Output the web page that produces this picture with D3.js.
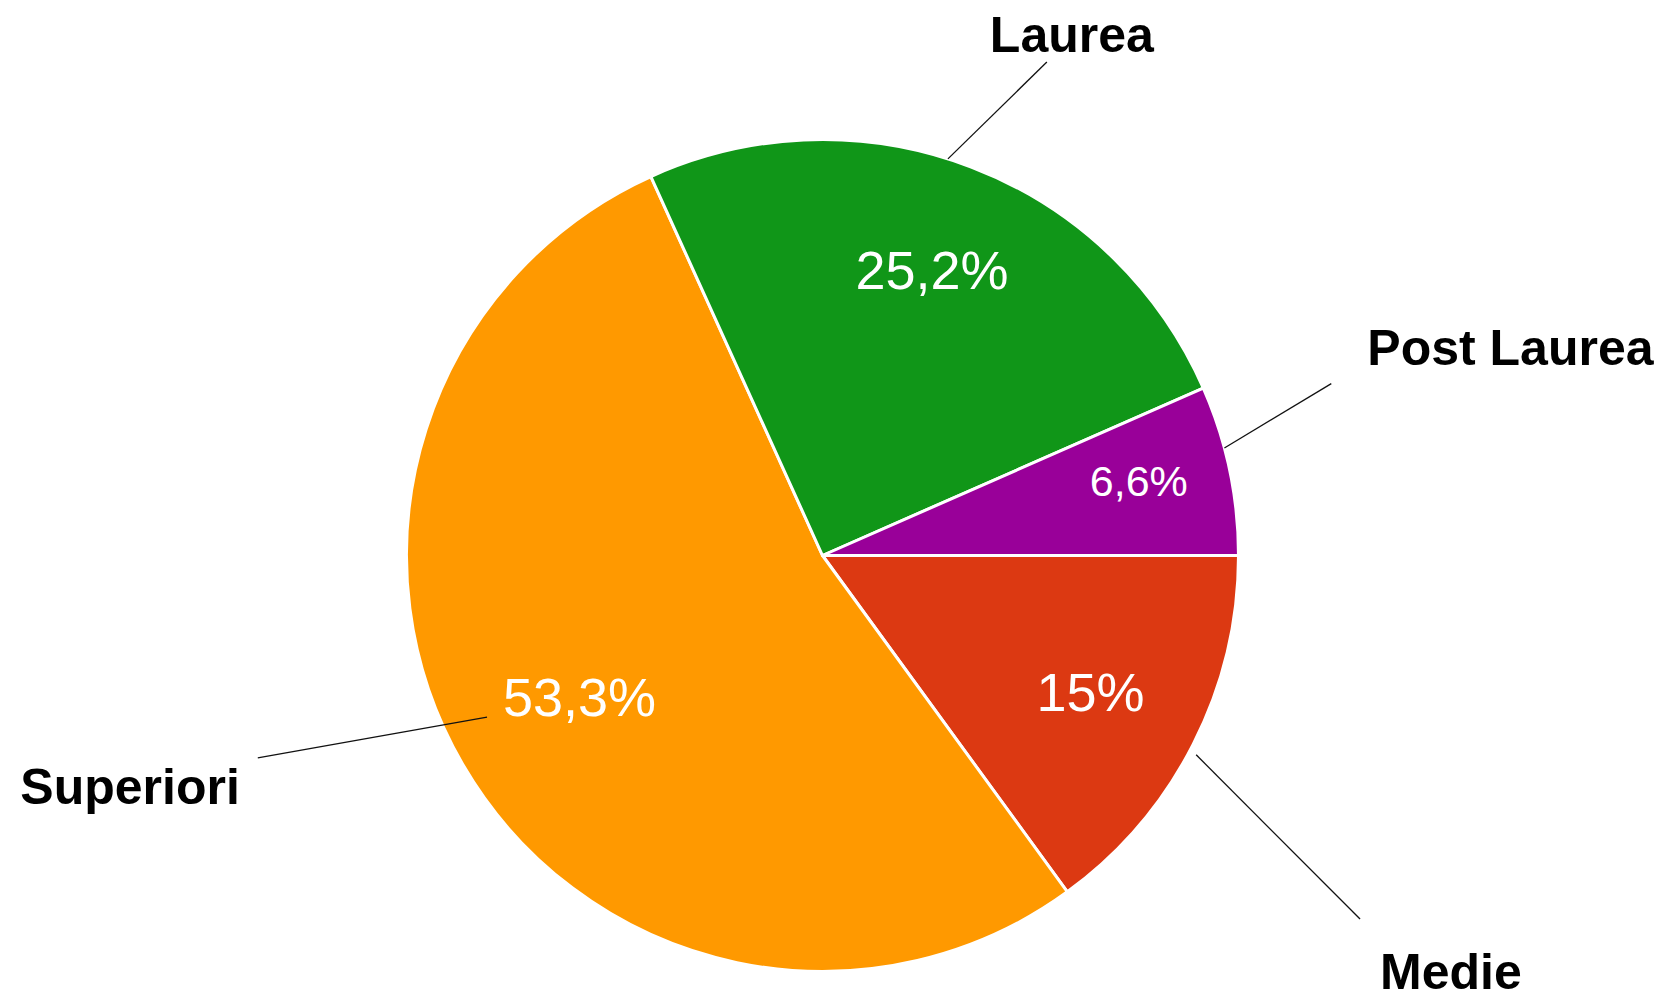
<!DOCTYPE html>
<html>
<head>
<meta charset="utf-8">
<script src="https://cdn.jsdelivr.net/npm/d3@7"></script>
<style>
  body { margin: 0; background: #fff; }
  svg { display: block; }
</style>
</head>
<body>
<script>
// data, in the order the slices run clockwise from 3 o'clock
var categories = ["Medie", "Superiori", "Laurea", "Post Laurea"];
var percents = [15, 53.3, 25.2, 6.6];
var colors = ["#dc3912", "#ff9900", "#109618", "#990099"];

var width = 1664,
    height = 992;

var cx = 822.5, cy = 555.5, radius = 416;

// callout layout per slice: angle offsets (deg) from the slice middle,
// radii as a fraction of the pie radius, text offset from the line end
var callout = {
    "Medie":       {a0: 1.1,  r0: 1.018, a1: 7.1,  r1: 1.56,  dx: 20,  dy: 70,  anchor: "start"},
    "Superiori":   {a0: 4.5,  r0: 0.895, a1: 10.5, r1: 1.442, dx: -18, dy: 46,  anchor: "end"},
    "Laurea":      {a0: -3.4, r0: 1.0,   a1: 3.5,  r1: 1.303, dx: 25,  dy: -10, anchor: "middle"},
    "Post Laurea": {a0: -3.1, r0: 1.0,   a1: -6.8, r1: 1.291, dx: 36,  dy: -19, anchor: "start"}
};

var svg = d3.select("body")
    .append("svg")
    .attr("width", width)
    .attr("height", height);

var g = svg.append("g")
    .attr("transform", "translate(" + cx + "," + cy + ")");

var data = categories.map(function(c, i) {
    return {name: c, value: percents[i], color: colors[i]};
});

var pie = d3.pie()
    .sort(null)
    .value(function(d) { return d.value; })
    .startAngle(Math.PI / 2)
    .endAngle(Math.PI / 2 + 2 * Math.PI);

var arc = d3.arc()
    .innerRadius(0)
    .outerRadius(radius);

var arcs = pie(data);

// slices
g.selectAll(".slice")
    .data(arcs)
    .enter().append("path")
    .attr("class", "slice")
    .attr("d", arc)
    .attr("fill", function(d) { return d.data.color; })
    .attr("stroke", "#fff")
    .attr("stroke-width", 3)
    .attr("stroke-linejoin", "round");

function polar(angle, r) {
    return [Math.sin(angle) * r, -Math.cos(angle) * r];
}

function fmt(v) {
    return String(v).replace(".", ",") + "%";
}

function pctSize(d) { return d.data.value < 10 ? 43 : 54; }

// percentage labels inside the slices
g.selectAll(".pct")
    .data(arcs)
    .enter().append("text")
    .attr("class", "pct")
    .attr("text-anchor", "middle")
    .attr("fill", "#fff")
    .style("font-family", "'Liberation Sans', Arial, sans-serif")
    .style("font-size", function(d) { return pctSize(d) + "px"; })
    .text(function(d) { return fmt(d.data.value); })
    .each(function(d) {
        var fs = pctSize(d);
        var K = radius * (fs < 54 ? 0.9 : 0.86);
        var hw = this.getComputedTextLength() / 2,
            hh = fs * 0.716 / 2;
        var mid = (d.startAngle + d.endAngle) / 2;
        var u = polar(mid, 1);
        var c = [Math.sign(u[0]) * hw, Math.sign(u[1]) * hh];
        var uc = u[0] * c[0] + u[1] * c[1];
        var cc = c[0] * c[0] + c[1] * c[1];
        var rho = -uc + Math.sqrt(uc * uc - cc + K * K);
        d3.select(this)
            .attr("x", u[0] * rho)
            .attr("y", u[1] * rho + hh - (fs < 54 ? 8 : 0));
    });

// leader lines
var deg = Math.PI / 180;
g.selectAll(".leader")
    .data(arcs)
    .enter().append("line")
    .attr("class", "leader")
    .each(function(d) {
        var L = callout[d.data.name];
        var mid = (d.startAngle + d.endAngle) / 2;
        var p0 = polar(mid + L.a0 * deg, radius * L.r0),
            p1 = polar(mid + L.a1 * deg, radius * L.r1);
        d.p1 = p1;
        d3.select(this)
            .attr("x1", p0[0]).attr("y1", p0[1])
            .attr("x2", p1[0]).attr("y2", p1[1]);
    })
    .attr("stroke", "#111")
    .attr("stroke-width", 1.3);

// category labels
g.selectAll(".cat")
    .data(arcs)
    .enter().append("text")
    .attr("class", "cat")
    .attr("x", function(d) { return d.p1[0] + callout[d.data.name].dx; })
    .attr("y", function(d) { return d.p1[1] + callout[d.data.name].dy; })
    .attr("text-anchor", function(d) { return callout[d.data.name].anchor; })
    .attr("fill", "#000")
    .style("font-family", "'Liberation Sans', Arial, sans-serif")
    .style("font-weight", "bold")
    .style("font-size", "50px")
    .text(function(d) { return d.data.name; });
</script>
</body>
</html>
